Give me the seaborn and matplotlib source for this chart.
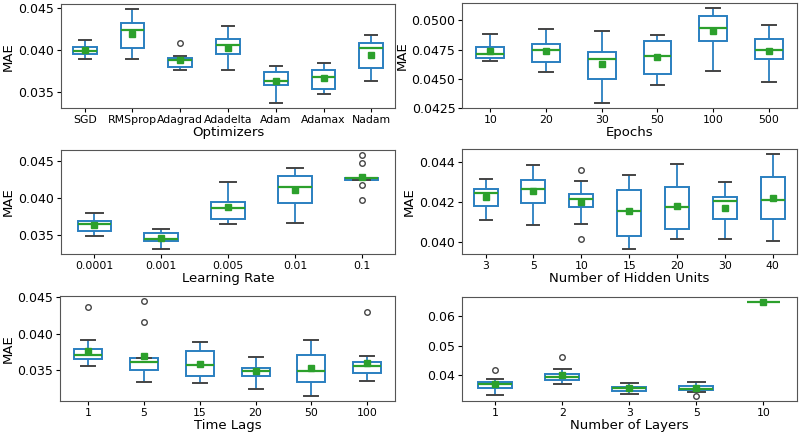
import numpy as np
import pandas as pd
import matplotlib
matplotlib.use('Agg')
import matplotlib.pyplot as plt
import seaborn as sns

# MAE of the repeated runs, one list per setting
optim_names = ['SGD', 'RMSprop', 'Adagrad', 'Adadelta', 'Adam', 'Adamax', 'Nadam']
optim_mae = [
    [0.03891, 0.0394, 0.03953, 0.0398, 0.03988, 0.0402, 0.04031, 0.0408, 0.04117],
    [0.03895, 0.0398, 0.04023, 0.0415, 0.04242, 0.0428, 0.0432, 0.0438, 0.04484],
    [0.03762, 0.0379, 0.03805, 0.0385, 0.03887, 0.0389, 0.03906, 0.03934, 0.0408],
    [0.0377, 0.0386, 0.03949, 0.0399, 0.04059, 0.0407, 0.04125, 0.0414, 0.04281],
    [0.0337, 0.0350, 0.0359, 0.0360, 0.03629, 0.0365, 0.03742, 0.0377, 0.03813],
    [0.0348, 0.0351, 0.03539, 0.0362, 0.03684, 0.0372, 0.03762, 0.0384, 0.03852],
    [0.03629, 0.0373, 0.03785, 0.0393, 0.0402, 0.0404, 0.04078, 0.0412, 0.04172],
]

epoch_names = ['10', '20', '30', '50', '100', '500']
epoch_mae = [
    [0.04653, 0.0467, 0.04681, 0.0471, 0.04716, 0.0476, 0.04776, 0.0480, 0.04885],
    [0.04561, 0.0460, 0.04641, 0.0470, 0.04744, 0.0477, 0.04799, 0.0488, 0.04927],
    [0.04289, 0.0440, 0.04495, 0.0460, 0.04673, 0.0470, 0.04727, 0.0482, 0.0491],
    [0.04444, 0.0452, 0.04538, 0.0465, 0.04696, 0.0477, 0.04822, 0.0484, 0.04876],
    [0.0457, 0.0475, 0.04824, 0.0488, 0.04933, 0.0498, 0.05036, 0.0508, 0.05105],
    [0.0447, 0.0457, 0.04667, 0.0470, 0.0475, 0.0479, 0.04844, 0.0490, 0.04962],
]

lr_names = ['0.0001', '0.001', '0.005', '0.01', '0.1']
lr_mae = [
    [0.03484, 0.0352, 0.03556, 0.0360, 0.03646, 0.0367, 0.03691, 0.0372, 0.03794],
    [0.03305, 0.0336, 0.03417, 0.0343, 0.03444, 0.0347, 0.03529, 0.0354, 0.03583],
    [0.0365, 0.0369, 0.03717, 0.0380, 0.03865, 0.0390, 0.03951, 0.0408, 0.0422],
    [0.03659, 0.0388, 0.03924, 0.0408, 0.04143, 0.0424, 0.043, 0.0434, 0.04408],
    [0.03973, 0.04175, 0.04242, 0.0425, 0.04265, 0.0427, 0.04274, 0.04471, 0.04587],
]

unit_names = ['3', '5', '10', '15', '20', '30', '40']
unit_mae = [
    [0.04106, 0.0416, 0.04178, 0.0422, 0.04244, 0.0425, 0.04264, 0.0428, 0.04314],
    [0.04084, 0.0416, 0.04193, 0.0424, 0.04266, 0.0428, 0.04311, 0.0437, 0.04382],
    [0.04015, 0.04089, 0.04173, 0.0419, 0.04212, 0.0422, 0.04239, 0.04303, 0.04361],
    [0.03963, 0.0400, 0.0403, 0.0412, 0.04155, 0.0422, 0.04261, 0.0431, 0.04336],
    [0.04015, 0.0404, 0.04064, 0.0412, 0.04176, 0.0422, 0.04274, 0.0431, 0.04387],
    [0.04013, 0.0406, 0.04114, 0.0416, 0.04205, 0.0421, 0.04222, 0.0425, 0.04297],
    [0.04003, 0.0406, 0.04111, 0.0416, 0.04208, 0.0428, 0.04324, 0.0439, 0.0444],
]

lag_names = ['1', '5', '15', '20', '50', '100']
lag_mae = [
    [0.03548, 0.0356, 0.03653, 0.0366, 0.03703, 0.0371, 0.0379, 0.03904, 0.0437],
    [0.03333, 0.0342, 0.03493, 0.0350, 0.03612, 0.03618, 0.03667, 0.0416, 0.04443],
    [0.03324, 0.0337, 0.03416, 0.0350, 0.03571, 0.0365, 0.03753, 0.0380, 0.03881],
    [0.03242, 0.0338, 0.03411, 0.0346, 0.0348, 0.0352, 0.0353, 0.0362, 0.0368],
    [0.03137, 0.0328, 0.03338, 0.0342, 0.0348, 0.0362, 0.03699, 0.0384, 0.03913],
    [0.03347, 0.0338, 0.03457, 0.0349, 0.03557, 0.0356, 0.03607, 0.03685, 0.04301],
]

layer_names = ['1', '2', '3', '5', '10']
layer_mae = [
    [0.03322, 0.0356, 0.03578, 0.0368, 0.03711, 0.0373, 0.03767, 0.03878, 0.04167],
    [0.03711, 0.0382, 0.03833, 0.0394, 0.03944, 0.0401, 0.04033, 0.04211, 0.046],
    [0.03367, 0.0346, 0.03478, 0.0354, 0.03556, 0.0360, 0.03611, 0.0366, 0.03733],
    [0.0328, 0.03433, 0.0350, 0.0353, 0.03533, 0.0361, 0.0362, 0.0375, 0.03767],
    [0.0648, 0.0648, 0.0648, 0.0648, 0.0648, 0.0648, 0.0648, 0.0648, 0.0648],
]

panels = [
    ('Optimizers', optim_names, optim_mae, [0.035, 0.040, 0.045], '%.3f', True),
    ('Epochs', epoch_names, epoch_mae, [0.0425, 0.045, 0.0475, 0.05], '%.4f', True),
    ('Learning Rate', lr_names, lr_mae, [0.035, 0.040, 0.045], '%.3f', True),
    ('Number of Hidden Units', unit_names, unit_mae, [0.040, 0.042, 0.044], '%.3f', True),
    ('Time Lags', lag_names, lag_mae, [0.035, 0.040, 0.045], '%.3f', True),
    ('Number of Layers', layer_names, layer_mae, [0.04, 0.05, 0.06], '%.2f', False),
]

# axes boxes [left, bottom, width, height] in figure fractions
rects = [
    [0.076, 0.752, 0.418, 0.238], [0.578, 0.752, 0.418, 0.240],
    [0.076, 0.418, 0.418, 0.238], [0.577, 0.418, 0.419, 0.240],
    [0.075, 0.080, 0.419, 0.240], [0.577, 0.080, 0.419, 0.238],
]

blue = '#2a7fc0'
green = '#2ca02c'

fig = plt.figure(figsize=(8, 4.36), dpi=100)

for (xlabel, names, values, yticks, fmt, show_ylabel), rect in zip(panels, rects):
    ax = fig.add_axes(rect)
    df = pd.DataFrame({
        'setting': np.repeat(names, [len(v) for v in values]),
        'MAE': np.concatenate(values),
    })
    sns.boxplot(data=df, x='setting', y='MAE', order=names, ax=ax,
                width=0.5, color='white', linecolor=blue, linewidth=1.4,
                showmeans=True,
                meanprops=dict(marker='s', markerfacecolor=green,
                               markeredgecolor=green, markersize=4),
                medianprops=dict(color=green, linewidth=1.6),
                capprops=dict(color='#444444', linewidth=1.4),
                whiskerprops=dict(color=blue, linewidth=1.3),
                flierprops=dict(marker='o', markerfacecolor='none',
                                markeredgecolor='#444444', markersize=4))
    ax.set_yticks(yticks)
    ax.yaxis.set_major_formatter(matplotlib.ticker.FormatStrFormatter(fmt))
    ax.tick_params(axis='y', labelsize=9, pad=2, length=3)
    ax.tick_params(axis='x', labelsize=7.8, pad=2, length=3)
    ax.set_xlabel(xlabel, fontsize=9.5, labelpad=1)
    ax.set_ylabel('MAE' if show_ylabel else '', fontsize=9.5, labelpad=2)
    for s in ax.spines.values():
        s.set_color('#555555')

fig.savefig('out.png', dpi=100)
